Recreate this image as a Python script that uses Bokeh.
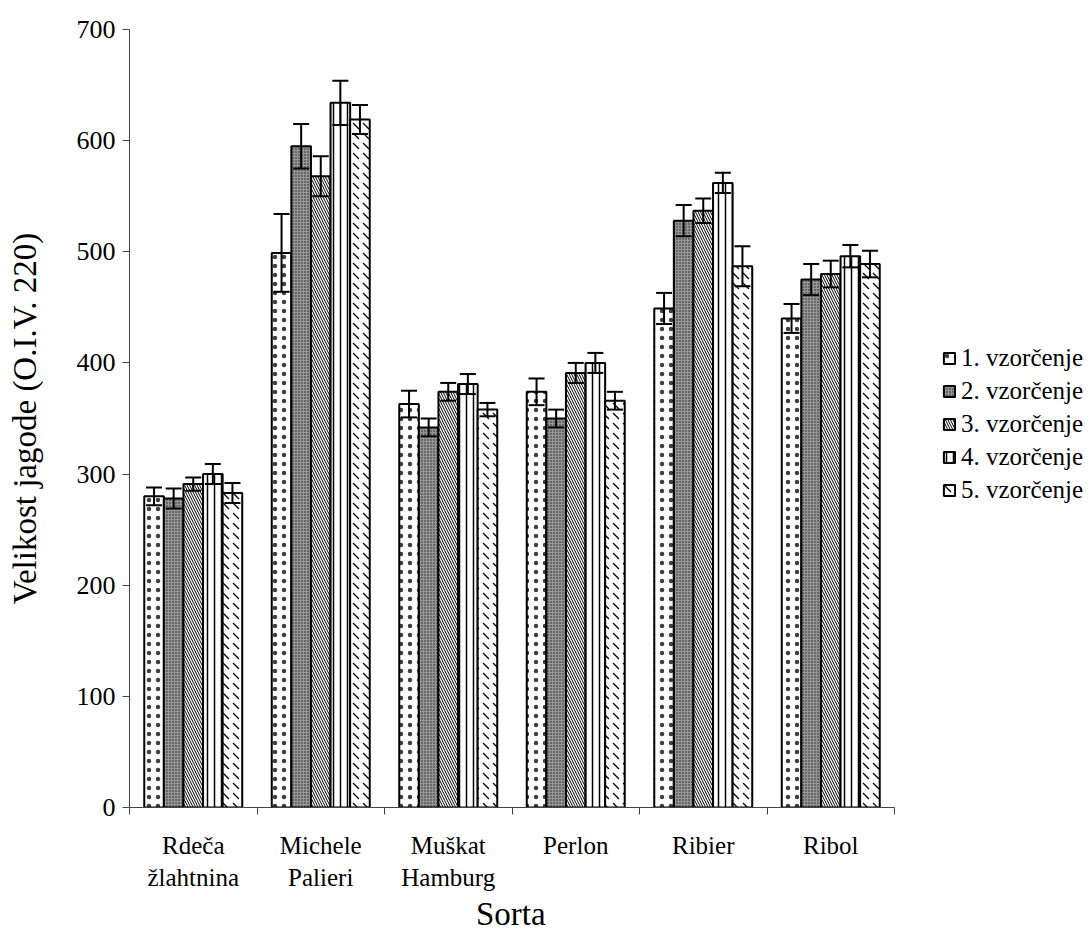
from bokeh.plotting import figure
from bokeh.models import (ColumnDataSource, Range1d, FixedTicker, Whisker, TeeHead,
                          Legend, LegendItem, Title)
from bokeh.embed import file_html
from bokeh.resources import INLINE

categories = ["Rdeča\nžlahtnina", "Michele\nPalieri", "Muškat\nHamburg", "Perlon", "Ribier", "Ribol"]
series_names = ["1. vzorčenje", "2. vzorčenje", "3. vzorčenje", "4. vzorčenje", "5. vzorčenje"]
s1 = [280, 499, 363, 374, 449, 440]
s2 = [278, 595, 342, 350, 528, 475]
s3 = [291, 568, 374, 391, 537, 480]
s4 = [300, 634, 381, 400, 562, 496]
s5 = [283, 619, 358, 366, 487, 489]
e1 = [8, 35, 12, 12, 14, 13]
e2 = [9, 20, 8, 8, 14, 14]
e3 = [6, 18, 8, 9, 11, 12]
e4 = [9, 20, 9, 9, 9, 10]
e5 = [9, 13, 6, 8, 18, 12]
y_ticks = [0, 100, 200, 300, 400, 500, 600, 700]
x_title = "Sorta"
y_title = "Velikost jagode (O.I.V. 220)"

series = [s1, s2, s3, s4, s5]
errors = [e1, e2, e3, e4, e5]
styles = [
    dict(fill_color="white", hatch_pattern="dot", hatch_scale=9, hatch_weight=0.5, hatch_color="black", hatch_alpha=0.75),
    dict(fill_color="#969696", hatch_pattern="dot", hatch_scale=3, hatch_weight=0.8, hatch_color="#222222"),
    dict(fill_color="white", hatch_pattern="left_diagonal_line", hatch_scale=5, hatch_weight=1.0, hatch_color="black"),
    dict(fill_color="white", hatch_pattern="vertical_line", hatch_scale=7, hatch_weight=1.5, hatch_color="black"),
    dict(fill_color="white", hatch_pattern="left_diagonal_dash", hatch_scale=10, hatch_weight=1.3, hatch_color="black"),
]

FONT = "Liberation Serif"
n = len(categories)
FW = 960          # frame pixel width (extends under the legend)
GROUP_PX = 765    # pixels spanned by the six groups
x_end = n * FW / GROUP_PX

p = figure(frame_width=FW, frame_height=778, x_range=Range1d(0, x_end), y_range=Range1d(0, 700),
           output_backend="svg", toolbar_location=None,
           min_border_left=129, min_border_right=0, min_border_top=29, min_border_bottom=0)
p.outline_line_color = None
p.xgrid.grid_line_color = None
p.ygrid.grid_line_color = None

bw = 0.1537
items = []
for j, (vals, errs, st) in enumerate(zip(series, errors, styles)):
    xs = [i + 0.5 + (j - 2) * bw for i in range(n)]
    src = ColumnDataSource(dict(x=xs, top=vals,
                                lo=[v - e for v, e in zip(vals, errs)],
                                hi=[v + e for v, e in zip(vals, errs)]))
    r = p.vbar(x="x", top="top", width=bw, source=src, line_color="black", line_width=2, **st)
    items.append(LegendItem(label=series_names[j], renderers=[r]))
    w = Whisker(base="x", lower="lo", upper="hi", source=src, line_color="black", line_width=2,
                level="overlay",
                upper_head=TeeHead(size=16, line_width=2, line_color="black"),
                lower_head=TeeHead(size=16, line_width=2, line_color="black"))
    p.add_layout(w)

# axes
p.yaxis.ticker = FixedTicker(ticks=y_ticks)
p.yaxis.major_label_text_font = FONT
p.yaxis.major_label_text_font_size = "26px"
p.yaxis.major_label_text_color = "black"
p.yaxis.major_tick_in = 0
p.yaxis.major_tick_out = 7
p.yaxis.minor_tick_line_color = None
p.yaxis.major_label_standoff = 7
p.yaxis.axis_line_color = "#444444"
p.yaxis.major_tick_line_color = "#444444"
p.yaxis.axis_label = y_title
p.yaxis.axis_label_text_font = FONT
p.yaxis.axis_label_text_font_size = "33px"
p.yaxis.axis_label_text_font_style = "normal"
p.yaxis.axis_label_text_color = "black"
p.yaxis.axis_label_standoff = 31

centers = [i + 0.5 for i in range(n)]
p.xaxis.bounds = (0, n)
p.xaxis.ticker = FixedTicker(ticks=centers, minor_ticks=list(range(n + 1)))
p.xaxis.major_label_overrides = {c: lab for c, lab in zip(centers, categories)}
p.xaxis.major_tick_line_color = None
p.xaxis.minor_tick_in = 0
p.xaxis.minor_tick_out = 7
p.xaxis.minor_tick_line_color = "#444444"
p.xaxis.axis_line_color = "#444444"
p.xaxis.major_label_text_font = FONT
p.xaxis.major_label_text_font_size = "25px"
p.xaxis.major_label_text_line_height = 1.2
p.xaxis.major_label_text_color = "black"
p.xaxis.major_label_standoff = 17

# x-axis title centred under the six groups (not the whole frame)
t = Title(text=x_title, align="left", offset=GROUP_PX / 2 - 36, standoff=0,
          text_font=FONT, text_font_size="33px", text_font_style="normal", text_color="black")
p.add_layout(t, "below")

legend = Legend(items=items, location=(813, 303), margin=0, padding=2,
                spacing=5, glyph_width=14, glyph_height=14, label_standoff=5,
                label_text_font=FONT, label_text_font_size="25px", label_text_color="black",
                border_line_color=None, background_fill_alpha=0)
p.add_layout(legend)

open("out.html", "w").write(file_html(p, INLINE))
